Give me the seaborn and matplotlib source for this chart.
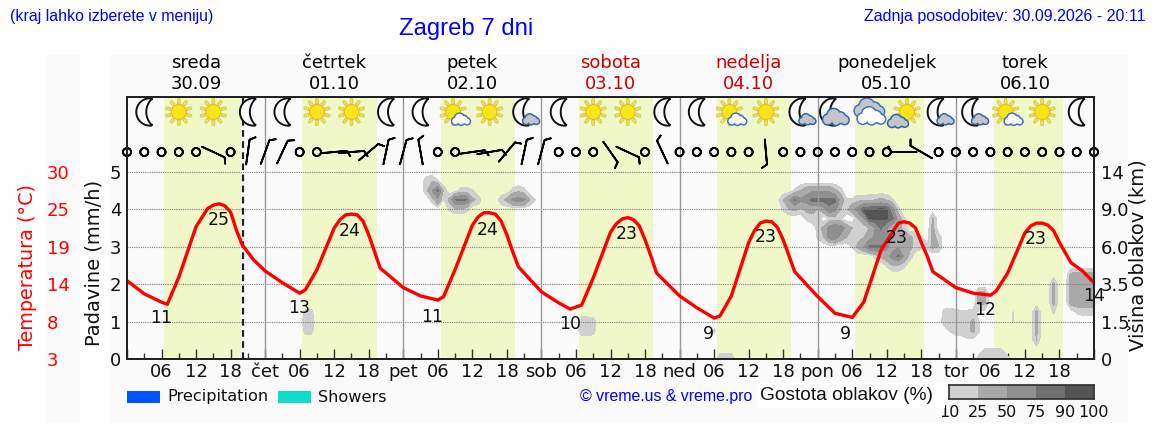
import numpy as np
import matplotlib
matplotlib.use("Agg")
import matplotlib.pyplot as plt
import seaborn as sns
from matplotlib.colors import ListedColormap
from matplotlib.patches import Circle, Polygon, Rectangle
from matplotlib.transforms import Affine2D

W, H = 1152, 443

# temperature curve, hours since 30.09 00:00
temp_hours = [0, 3, 6, 7, 9, 12, 14, 15, 16, 17, 18, 19, 20, 22, 24, 27, 30, 31, 33, 36, 37, 38, 39, 40, 41, 42, 43, 44, 48,
              51, 54, 55, 57, 60, 61, 62, 63, 64, 65, 66, 67, 68, 72, 75, 77, 79, 81, 84, 85, 86, 87, 88, 89, 90, 91, 92, 96,
              99, 102, 103, 105, 108, 109, 110, 111, 112, 113, 114, 115, 116, 120, 123, 126, 128, 131, 133, 134, 135, 136,
              137, 138, 139, 140, 144, 147, 150, 151, 153, 156, 157, 158, 159, 160, 161, 162, 164, 166, 168]
temp_values = [14.3, 12.4, 11.2, 10.9, 14.8, 22.1, 24.7, 25.2, 25.4, 25.1, 24.2, 21.6, 19.5, 17.3, 15.7, 14.0, 12.5, 13.0, 15.9, 21.9, 23.1, 23.8, 23.9, 23.8, 22.9, 20.9, 18.5, 16.1, 13.3,
               12.1, 11.5, 12.0, 15.9, 22.3, 23.5, 24.1, 24.1, 23.9, 22.9, 20.9, 18.5, 16.3, 12.7, 11.1, 10.2, 10.8, 14.7, 21.3, 22.5, 23.2, 23.4, 23.1, 22.2, 20.2, 17.9, 15.4, 12.1,
               10.4, 8.9, 9.2, 12.1, 19.8, 21.5, 22.6, 22.9, 22.8, 22.0, 20.2, 17.9, 15.6, 12.0, 9.6, 9.0, 11.2, 18.7, 21.3, 22.6, 22.8, 22.6,
               21.9, 19.8, 17.9, 15.6, 13.3, 12.5, 12.2, 12.8, 15.4, 21.2, 22.2, 22.6, 22.6, 22.3, 21.5, 19.8, 16.9, 15.7, 14.0]

label_hours = [5.9, 16, 29.9, 38.7, 53, 62.7, 77, 86.9, 101, 111, 124.9, 133.8, 149, 157.9, 168]
label_temps = [11, 25, 13, 24, 11, 24, 10, 23, 9, 23, 9, 23, 12, 23, 14]
label_pos = [8.9, 23.1, 10.4, 21.5, 9.1, 21.6, 8.05, 21.0, 6.6, 20.6, 6.6, 20.5, 10.0, 20.3, 12.1]

day_names = ["sreda", "četrtek", "petek", "sobota", "nedelja", "ponedeljek", "torek"]
day_dates = ["30.09", "01.10", "02.10", "03.10", "04.10", "05.10", "06.10"]
day_colors = ["black", "black", "black", "#d00000", "#d00000", "black", "black"]
day_short = ["", "čet", "pet", "sob", "ned", "pon", "tor"]
daylight_start = [6.4, 30.4, 54.6, 78.5, 102.5, 126.5, 150.6]
daylight_end = [19.8, 43.4, 67.4, 91.4, 115.4, 138.5, 162.6]
now_hour = 20.15

# one value per 3 h, speed 0 is calm
wind_speed = [0, 0, 0, 0, 0, 10, 0, 10, 10, 10, 0, 0, 10, 10, 10, 10, 10, 10, 0, 0,
              10, 10, 10, 10, 10, 0, 0, 0, 10, 10, 0, 10, 0, 0, 0, 0, 0, 10, 0, 0,
              0, 0, 0, 0, 0, 10, 10, 0, 0, 0, 0, 0, 0, 0, 0, 0, 0]
wind_bearing = [0, 0, 0, 0, 0, 115, 0, 8, 20, 25, 0, 0, 85, 85, 50, 12, 15, 350, 0, 0,
                82, 80, 40, 12, 15, 0, 0, 0, 145, 115, 0, 335, 0, 0, 0, 0, 0, 175, 0, 0,
                0, 0, 0, 0, 0, 270, 300, 0, 0, 0, 0, 0, 0, 0, 0, 0, 0]

# one icon per 6 h
sky_icons = ["moon", "sun", "sun", "moon", "moon", "sun", "sun", "moon", "moon", "sun_cloud",
             "sun", "moon_cloud", "moon", "sun", "sun", "moon", "moon", "sun_cloud", "sun",
             "moon_cloud", "moon_gray", "clouds", "sun_gray", "moon_cloud", "moon_cloud",
             "sun_cloud", "sun", "moon"]

precip_labels = ["Precipitation", "Showers"]
precip_colors = ["#0055ff", "#10dcc8"]

cloud_bins = [10, 25, 50, 75, 90, 100]
cloud_colors = ["#d0d0d0", "#a9a9a9", "#8f8f8f", "#707070", "#555555"]
height_ticks = ["0", "1.5", "3.5", "6.0", "9.0", "14"]
rain_ticks = [0, 1, 2, 3, 4, 5]
temp_ticks = [3, 8.4, 13.8, 19.2, 24.6, 30]
temp_ticklabels = ["3", "8", "14", "19", "25", "30"]

# cloud density: (axis level, first hour, values per hour)
cloud_thu = [(1.25, 31, [14, 14]), (1.0, 31, [20, 20]), (0.75, 31, [15, 15])]
cloud_fri = [(4.75, 52, [20, 25, 12]), (4.5, 52, [20, 50, 80, 22]), (4.25, 53, [15, 45, 8]),
             (4.5, 58, [15, 15, 11]), (4.25, 56, [30, 75, 78, 75, 30, 20]),
             (4.0, 56, [12, 20, 20, 15]), (4.5, 67, [14, 20, 14]),
             (4.25, 65, [20, 30, 55, 60, 55, 25, 10])]
cloud_sat = [(1.0, 79, [20, 20, 17]), (0.75, 79, [20, 20, 17])]
cloud_sun = [(0.75, 102, [13]), (0.0, 103, [24, 24, 24])]
cloud_mon = [(4.5, 116, [12, 25, 40, 45, 45, 45, 45, 30, 15]),
             (4.25, 113, [5, 25, 45, 78, 55, 60, 82, 82, 82, 82, 80, 40, 12, 12, 20, 20, 22, 25, 30, 25, 12]),
             (4.0, 114, [12, 25, 30, 20, 30, 30, 25, 40, 70, 60, 25, 20, 40, 60, 92, 92, 92, 92, 92, 60, 15]),
             (3.75, 118, [12, 20, 18, 0, 12, 15, 12, 0, 0, 25, 50, 92, 92, 92, 92, 80, 40, 12, 0, 0, 0, 0, 28]),
             (3.5, 120, [15, 30, 60, 70, 65, 40, 25, 12, 10, 25, 50, 78, 50, 30, 30, 20, 0, 0, 0, 0, 30]),
             (3.25, 120, [12, 25, 60, 65, 40, 25, 25, 20, 25, 40, 55, 60, 55, 45, 40, 35, 30, 20, 12, 0, 30, 20]),
             (3.0, 126, [12, 30, 50, 78, 78, 78, 55, 40, 45, 40, 30, 20, 14, 15, 30, 25]),
             (2.75, 130, [15, 30, 40, 60, 80, 45, 20]), (2.5, 132, [12, 25, 25, 15])]
cloud_tue = [(1.75, 148, [30, 30]), (1.5, 148, [30, 30]), (1.25, 148, [6, 6]),
             (1.25, 142, [15, 18, 14, 12, 13, 14]), (1.0, 142, [18, 20, 20, 20, 22, 28, 10.5]),
             (0.75, 143, [11, 18, 20, 22, 28, 12]), (0.5, 146, [7, 7]),
             (0.25, 149, [12, 12, 12, 11]), (0.0, 148, [18, 24, 24, 24, 24, 15]),
             (1.25, 154, [11]), (1.0, 154, [11]), (1.25, 158, [30]), (1.0, 158, [30]),
             (0.75, 158, [30]), (0.5, 158, [25]), (2.0, 161, [30]), (1.75, 161, [30]),
             (1.5, 161, [30]), (1.25, 161, [12]), (2.25, 164, [30, 35, 35, 35, 35]),
             (2.0, 164, [35, 35, 35, 35, 35]), (1.75, 164, [35, 35, 35, 35, 35]),
             (1.5, 164, [35, 35, 35, 35, 35]), (1.25, 165, [12, 15, 15, 15])]


def box(x0, y0, x1, y1):
    # pixel box measured from the top left of the picture
    return [x0 / W, 1 - y1 / H, (x1 - x0) / W, (y1 - y0) / H]


def cloud_grid(hours, levels, blocks):
    grid = np.zeros((len(levels), len(hours)))
    for block in blocks:
        for level, start, values in block:
            row = int(round(level / 0.25))
            for i, v in enumerate(values):
                grid[row, start + i] = max(grid[row, start + i], v)
    return grid


def draw_sun(ax, place, dx=0, dy=0, r=7.5):
    for a in np.arange(0, 360, 36) + 18:
        c, s = np.cos(np.radians(a)), np.sin(np.radians(a))
        ray = [(dx + (r + 1) * c - 1.6 * s, dy + (r + 1) * s + 1.6 * c),
               (dx + (r + 6) * c - 1.2 * s, dy + (r + 6) * s + 1.2 * c),
               (dx + (r + 6) * c + 1.2 * s, dy + (r + 6) * s - 1.2 * c),
               (dx + (r + 1) * c + 1.6 * s, dy + (r + 1) * s - 1.6 * c)]
        ax.add_patch(Polygon(ray, fc="#f6e62a", ec="#c8bf70", lw=0.5, transform=place, clip_on=False, zorder=6))
    ax.add_patch(Circle((dx, dy), r, fc="#f5e714", ec="#e8b830", lw=0.8, transform=place, clip_on=False, zorder=6))


def draw_moon(ax, place, dx=0, dy=0):
    # crescent between two circles that meet at the tips
    outer = np.radians(np.linspace(80, 280, 30))
    a_in = np.degrees(np.arcsin(13.5 / 18))
    inner = np.radians(np.linspace(180 + a_in, 180 - a_in, 30))
    xs = np.r_[5.7 + 13.7 * np.cos(outer), 20 + 18 * np.cos(inner)]
    ys = np.r_[13.7 * np.sin(outer), 18 * np.sin(inner)]
    ax.add_patch(Polygon(np.c_[xs + dx, ys + dy], closed=True, fc="white", ec="#111111", lw=1.4,
                         transform=place, clip_on=False, zorder=6))


def draw_cloud(ax, place, dx, dy, size, face, edge="#2f65a8"):
    parts = [(-0.62, -0.12, 0.36), (-0.18, 0.2, 0.48), (0.3, 0.02, 0.4), (0.66, -0.16, 0.3), (0.0, -0.22, 0.3)]
    for grow, color in ((1.5, edge), (0, face)):
        for px, py, pr in parts:
            ax.add_patch(Circle((dx + px * size, dy + py * size), pr * size + grow, fc=color, ec="none",
                                transform=place, clip_on=False, zorder=6))


def draw_icon(ax, kind, place):
    if kind == "sun":
        draw_sun(ax, place)
    elif kind == "moon":
        draw_moon(ax, place)
    elif kind == "sun_cloud":
        draw_sun(ax, place, -2, 0)
        draw_cloud(ax, place, 6, -8, 9, "white", "#3a74c0")
    elif kind == "moon_cloud":
        draw_moon(ax, place, -3, 0)
        draw_cloud(ax, place, 7, -8, 8, "#c2c6ca")
    elif kind == "moon_gray":
        draw_moon(ax, place, -7, 0)
        draw_cloud(ax, place, 1, -6, 13, "#c2c6ca")
    elif kind == "clouds":
        draw_cloud(ax, place, 0, 3, 15, "#c2c6ca", "#3a74c0")
        draw_cloud(ax, place, 2, -5, 14, "white", "#3a74c0")
    elif kind == "sun_gray":
        draw_sun(ax, place, 3, 0)
        draw_cloud(ax, place, -6, -10, 10, "#c2c6ca")


sns.set_theme(style="white")
plt.rcParams["font.family"] = ["DejaVu Sans"]
plt.rcParams["axes.edgecolor"] = "#222222"

fig = plt.figure(figsize=(W / 100, H / 100), dpi=100, facecolor="white")
for x0, x1 in ((45, 80), (110, 1128)):
    fig.add_artist(Rectangle((x0 / W, 1 - 423 / H), (x1 - x0) / W, 368 / H, transform=fig.transFigure,
                             fc="#fafafa", ec="none", zorder=-5))

ax = fig.add_axes(box(127, 97, 1094, 359))
ax.set_facecolor("#fafafa")
ax.set_xlim(0, 168)
ax.set_ylim(0, 7)

for a, b in zip(daylight_start, daylight_end):
    ax.axvspan(a, b, color="#f0f7c8", lw=0, zorder=0)

hours = np.arange(0, 169)
levels = np.arange(0, 5.5, 0.25)
density = cloud_grid(hours, levels, [cloud_thu, cloud_fri, cloud_sat, cloud_sun, cloud_mon, cloud_tue])
ax.contourf(hours, levels, density, levels=cloud_bins, colors=cloud_colors, zorder=1)

for y in rain_ticks[1:]:
    ax.axhline(y, color="#808080", ls=(0, (1, 1)), lw=0.8, zorder=3)
for d in range(1, 7):
    ax.axvline(24 * d, color="#999999", lw=1.0, zorder=3)
ax.axvline(now_hour, color="#222222", ls=(0, (3, 2)), lw=1.6, zorder=4)

# wind row
wind_hours = np.arange(0, 169, 3)
speed = np.array(wind_speed, dtype=float)
bearing = np.radians(wind_bearing)
ax.barbs(wind_hours, np.full(len(wind_hours), 5.53), -speed * np.sin(bearing), -speed * np.cos(bearing),
         pivot="middle", length=6.0, linewidth=1.3, barbcolor="black", flagcolor="black", fill_empty=False,
         barb_increments=dict(half=5, full=10, flag=50),
         sizes=dict(emptybarb=0.16, height=0.22, spacing=0.12), clip_on=False, zorder=5)

# x axis
ax.set_xticks(np.arange(0, 169, 6))
ax.set_xticks(np.arange(3, 169, 6), minor=True)
tick_text = []
for h in np.arange(0, 169, 6):
    if h == 168:
        tick_text.append("")
    elif h % 24 == 0:
        tick_text.append(day_short[h // 24])
    else:
        tick_text.append(f"{h % 24:02d}")
ax.set_xticklabels(tick_text, fontsize=13)
ax.tick_params(axis="x", which="major", direction="in", length=7, width=1, color="#333333", bottom=True, pad=3, labelcolor="#111111")
ax.tick_params(axis="x", which="minor", direction="in", length=4, width=1, color="#333333", bottom=True)

ax.set_yticks(rain_ticks)
ax.set_yticklabels([str(t) for t in rain_ticks], fontsize=13, color="#111111")
ax.tick_params(axis="y", length=0, pad=4)

# icons are sized in pixels and placed from the hour axis
for k, kind in enumerate(sky_icons):
    cx, cy = ax.transData.transform((3 + 6 * k, 6.6))
    draw_icon(ax, kind, Affine2D().translate(cx, cy))

# temperature on its own scale, read on the far left
ax_temp = ax.twinx()
ax_temp.set_ylim(3, 3 + 7 * 5.4)
sns.lineplot(x=temp_hours, y=temp_values, color="#ff0000", lw=2.4, estimator=None, ax=ax_temp, zorder=8)
ax_temp.yaxis.tick_left()
ax_temp.set_yticks(temp_ticks)
ax_temp.set_yticklabels(temp_ticklabels, fontsize=13, color="#ff0000", ha="left")
ax_temp.tick_params(axis="y", length=0, pad=57.6)
for h, t, pos in zip(label_hours, label_temps, label_pos):
    ax_temp.text(h, pos, str(t), ha="center", va="center", fontsize=12.5, color="#111111", zorder=9, clip_on=False)

# height axis on the right
ax_cloud = ax.twinx()
ax_cloud.set_ylim(0, 7)
ax_cloud.set_yticks(rain_ticks)
ax_cloud.set_yticklabels(height_ticks, fontsize=13, color="#111111")
ax_cloud.tick_params(axis="y", length=0, pad=5)
ax_cloud.grid(False)
ax_temp.grid(False)
ax.grid(False)

for i, (name, date, color) in enumerate(zip(day_names, day_dates, day_colors)):
    xp = 127 + (24 * i + 12) * 967 / 168
    fig.text(xp / W, 1 - 63 / H, name, color=color, fontsize=13, ha="center", va="center")
    fig.text(xp / W, 1 - 84 / H, date, color=color, fontsize=13, ha="center", va="center")

fig.text(10 / W, 1 - 16 / H, "(kraj lahko izberete v meniju)", color="#0000ff", fontsize=11.4,
         family="Liberation Sans", va="center")
fig.text(466 / W, 1 - 29 / H, "Zagreb 7 dni", color="#0000ff", fontsize=17.2, family="Liberation Sans",
         ha="center", va="center")
fig.text(1146 / W, 1 - 16 / H, "Zadnja posodobitev: 30.09.2026 - 20:11", color="#0000ff", fontsize=11.5,
         family="Liberation Sans", ha="right", va="center")

fig.text(28 / W, 1 - 267 / H, "Temperatura (°C)", color="#ff0000", fontsize=13.8, rotation=90, ha="center", va="center")
fig.text(94 / W, 1 - 263 / H, "Padavine (mm/h)", color="#111111", fontsize=14, rotation=90, ha="center", va="center")
fig.text(1138 / W, 1 - 255 / H, "Višina oblakov (km)", color="#111111", fontsize=14, rotation=90, ha="center", va="center")

# legend row
for x0, name, color in zip((127, 278), precip_labels, precip_colors):
    fig.add_artist(Rectangle((x0 / W, 1 - 403 / H), 33 / W, 12 / H, transform=fig.transFigure, fc=color, ec="none"))
    fig.text((x0 + 40) / W, 1 - 397 / H, name, fontsize=11.6, color="#111111", va="center")
fig.text(580 / W, 1 - 397 / H, "© vreme.us & vreme.pro", color="#0000ff", fontsize=11.4,
         family="Liberation Sans", va="center")
fig.add_artist(Rectangle((757 / W, 1 - 408 / H), 188 / W, 25 / H, transform=fig.transFigure, fc="white", ec="none"))
fig.text(760 / W, 1 - 395 / H, "Gostota oblakov (%)", color="#111111", fontsize=13.8, family="Liberation Sans", va="center")

cax = fig.add_axes(box(949, 385, 1094, 399))
sns.heatmap(np.arange(5).reshape(1, 5), cmap=ListedColormap(cloud_colors), cbar=False, ax=cax, yticklabels=False)
cax.set_xticks(np.arange(6))
cax.set_xticklabels([str(b) for b in cloud_bins], rotation=0, fontsize=11.5, color="#111111")
cax.tick_params(axis="x", length=0, pad=4)
for spine in cax.spines.values():
    spine.set_visible(True)
    spine.set_color("#333333")

fig.savefig("out.png", dpi=100, facecolor="white")
